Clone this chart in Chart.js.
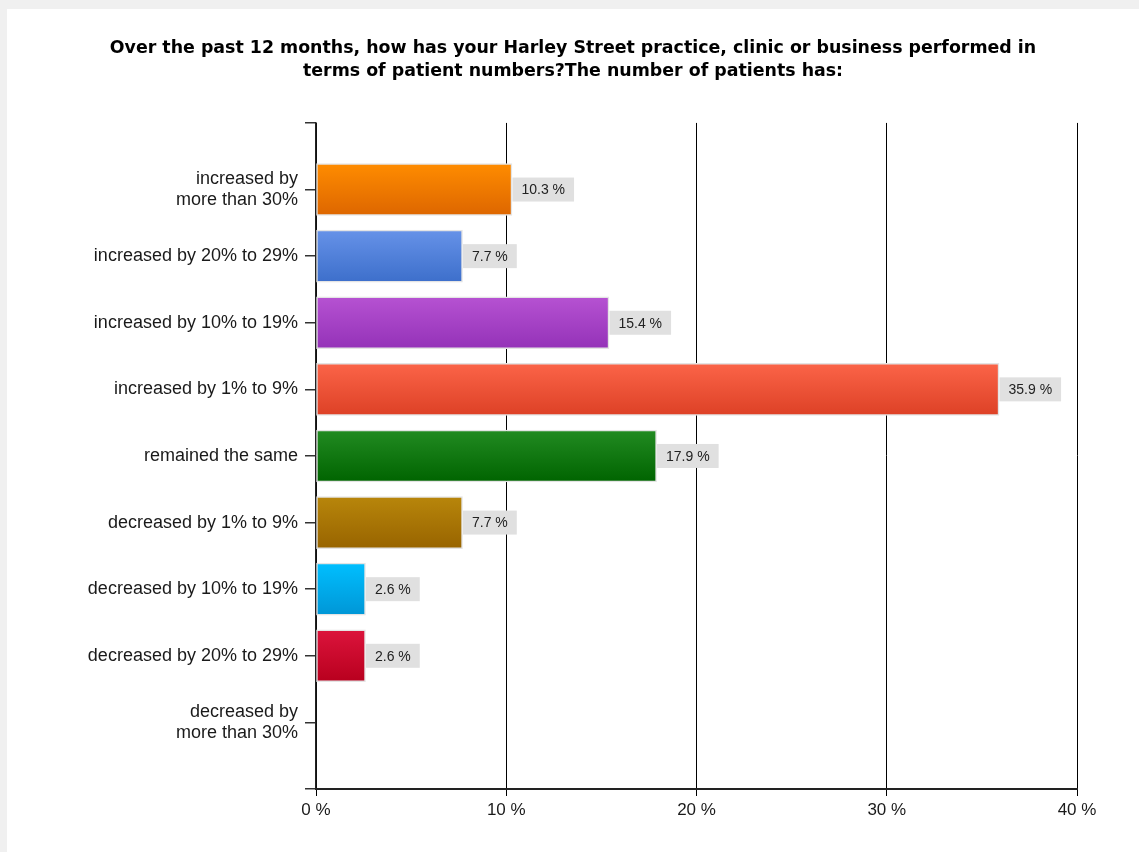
<!DOCTYPE html>
<html>
<head>
<meta charset="utf-8">
<script src="https://cdn.jsdelivr.net/npm/chart.js@4"></script>
<style>
  html, body { margin: 0; padding: 0; background: #f0f0f0; }
  #card { position: absolute; left: 7px; top: 9px; width: 1132px; height: 843px; background: #ffffff; }
  canvas { display: block; }
</style>
</head>
<body>
<div id="card"><canvas id="chart"></canvas></div>
<script>
// Survey answers (top to bottom) and share of respondents, in percent
const categories = [
  ['increased by', 'more than 30%'],
  'increased by 20% to 29%',
  'increased by 10% to 19%',
  'increased by 1% to 9%',
  'remained the same',
  'decreased by 1% to 9%',
  'decreased by 10% to 19%',
  'decreased by 20% to 29%',
  ['decreased by', 'more than 30%']
];
const values = [10.3, 7.7, 15.4, 35.9, 17.9, 7.7, 2.6, 2.6, null];
const xTicks = [0, 10, 20, 30, 40];

// Bar fills: lighter shade at the top of each bar, darker at the bottom
const topColors = ['#ff8c00', '#6692e8', '#b652d2', '#fb6448', '#228b22', '#b8860b', '#00bfff', '#dc143c', '#999999'];
const bottomColors = ['#dd6600', '#3d6fcb', '#9432b8', '#dd4126', '#006400', '#986400', '#0096d6', '#b8001e', '#777777'];

const titleLines = [
  'Over the past 12 months, how has your Harley Street practice, clinic or business performed in',
  'terms of patient numbers?The number of patients has:'
];

// Empty slots at both ends give the half-step margin above the first bar and below the last
const axisLabels = [''].concat(categories, ['']);
const axisValues = [null].concat(values, [null]);

const BAR = 52;
const SANS = '"Liberation Sans", Arial, sans-serif';

function barGradient(ctx) {
  const chart = ctx.chart;
  const i = ctx.dataIndex;
  const top = topColors[i - 1] || '#999';
  const bottom = bottomColors[i - 1] || '#777';
  if (!chart.chartArea || !chart.scales.y) return top;
  const y = chart.scales.y.getPixelForValue(i);
  const g = chart.ctx.createLinearGradient(0, y - BAR / 2, 0, y + BAR / 2);
  g.addColorStop(0, top);
  g.addColorStop(1, bottom);
  return g;
}

// Grey value tags drawn just right of each bar end
const valueTags = {
  id: 'valueTags',
  afterDatasetsDraw(chart) {
    const ctx = chart.ctx;
    const meta = chart.getDatasetMeta(0);
    ctx.save();
    ctx.font = '14px ' + SANS;
    ctx.textBaseline = 'middle';
    ctx.textAlign = 'left';
    meta.data.forEach((bar, i) => {
      const v = axisValues[i];
      if (v === null || v === undefined) return;
      const text = v.toFixed(1) + ' %';
      const w = ctx.measureText(text).width + 18;
      const x = bar.x + 0.5;
      const h = 24;
      ctx.fillStyle = '#e0e0e0';
      ctx.fillRect(x, bar.y - h / 2, w, h);
      ctx.fillStyle = '#222222';
      ctx.fillText(text, x + 9, bar.y + 1);
    });
    ctx.restore();
  }
};

new Chart(document.getElementById('chart'), {
  type: 'bar',
  data: {
    labels: axisLabels,
    datasets: [{
      data: axisValues,
      backgroundColor: barGradient,
      borderColor: '#e4e4e4',
      borderWidth: 1.5,
      borderSkipped: false,
      barThickness: BAR
    }]
  },
  options: {
    indexAxis: 'y',
    responsive: true,
    maintainAspectRatio: false,
    animation: false,
    layout: { padding: 0 },
    plugins: {
      legend: { display: false },
      tooltip: { enabled: false },
      title: {
        display: true,
        text: titleLines,
        color: '#000000',
        font: { family: '"DejaVu Sans", Verdana, sans-serif', size: 17.4, weight: 'bold', lineHeight: 1.32 },
        padding: { top: 28, bottom: 40 }
      }
    },
    scales: {
      x: {
        type: 'linear',
        min: xTicks[0],
        max: xTicks[xTicks.length - 1],
        afterBuildTicks(scale) { scale.ticks = xTicks.map(v => ({ value: v })); },
        afterFit(scale) { scale.height = 63; },
        ticks: {
          callback: v => v + ' %',
          color: '#1a1a1a',
          padding: 4,
          maxRotation: 0,
          font: { family: SANS, size: 17 }
        },
        grid: { color: '#000000', lineWidth: 1, tickLength: 7, drawOnChartArea: true },
        border: { color: '#222222', width: 2 }
      },
      y: {
        type: 'category',
        offset: false,
        afterFit(scale) { scale.width = 309; },
        ticks: {
          color: '#1a1a1a',
          padding: 7,
          autoSkip: false,
          font: { family: SANS, size: 18, lineHeight: 1.17 }
        },
        grid: { offset: false, drawOnChartArea: false, color: '#333333', lineWidth: 1.5, tickLength: 11 },
        border: { color: '#222222', width: 1.5 }
      },
      // empty right-hand margin so the title stays centred on the whole card
      margin: {
        type: 'linear',
        axis: 'y',
        position: 'right',
        afterFit(scale) { scale.width = 62; },
        ticks: { display: false },
        grid: { display: false },
        border: { display: false }
      }
    }
  },
  plugins: [valueTags]
});
</script>
</body>
</html>
